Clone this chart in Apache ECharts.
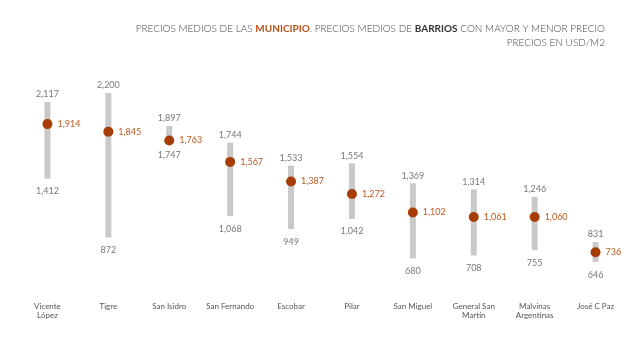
<!DOCTYPE html>
<html><head><meta charset="utf-8">
<script src="https://cdn.jsdelivr.net/npm/echarts@6/dist/echarts.min.js"></script>
<style>html,body{margin:0;padding:0;background:#fff}#c{width:640px;height:338px}</style>
</head><body><div id="c"></div>
<script>
const categories = ['Vicente\nLópez','Tigre','San Isidro','San Fernando','Escobar','Pilar','San Miguel','General San\nMartín','Malvinas\nArgentinas','José C Paz'];
const maxValues = [2117,2200,1897,1744,1533,1554,1369,1314,1246,831];
const minValues = [1412,872,1747,1068,949,1042,680,708,755,646];
const avgValues = [1914,1845,1763,1567,1387,1272,1102,1061,1060,736];

const fmt = v => v.toLocaleString('en-US');
const FONT = 'Lato';
const chart = echarts.init(document.getElementById('c'));
chart.setOption({
  backgroundColor: '#fff',
  animation: false,
  title: [{
    text: 'PRECIOS MEDIOS DE LAS {o|MUNICIPIO}. PRECIOS MEDIOS DE {b|BARRIOS} CON MAYOR Y MENOR PRECIO',
    right: 30, top: 19,
    textStyle: {fontFamily: FONT, fontWeight: 300, fontSize: 10, color: '#444',
      rich: {o: {fontFamily: FONT, fontWeight: 'bold', fontSize: 10, color: '#b8531c'},
             b: {fontFamily: FONT, fontWeight: 'bold', fontSize: 10, color: '#333'}}}
  }, {
    text: 'PRECIOS EN USD/M2',
    right: 30, top: 33,
    textStyle: {fontFamily: FONT, fontWeight: 300, fontSize: 10, color: '#444'}
  }],
  grid: {left: 17, right: 14, top: 93, bottom: 60},
  xAxis: {
    type: 'category', data: categories,
    axisLine: {show: false}, axisTick: {show: false},
    axisLabel: {margin: 24, fontFamily: FONT, fontSize: 8, lineHeight: 9, color: '#555', interval: 0}
  },
  yAxis: {type: 'value', min: 500, max: 2200, show: false, splitLine: {show: false}},
  series: [{
    type: 'custom',
    data: categories.map((c, i) => [i, minValues[i], maxValues[i]]),
    encode: {x: 0, y: [1, 2]},
    renderItem: (params, api) => {
      const lo = api.coord([api.value(0), api.value(1)]);
      const hi = api.coord([api.value(0), api.value(2)]);
      const w = 6;
      return {type: 'rect', shape: {x: lo[0] - w / 2, y: hi[1], width: w, height: lo[1] - hi[1]},
        style: {fill: '#c9c9c9'}};
    },
    z: 1
  }, {
    type: 'scatter', data: maxValues, symbolSize: 0,
    label: {show: true, position: 'top', distance: 3, formatter: p => fmt(p.value),
      fontFamily: FONT, fontSize: 9, color: '#555'}
  }, {
    type: 'scatter', data: minValues, symbolSize: 0,
    label: {show: true, position: 'bottom', distance: 8, formatter: p => fmt(p.value),
      fontFamily: FONT, fontSize: 9, color: '#555'}
  }, {
    type: 'scatter', data: avgValues, symbolSize: 10, z: 3,
    itemStyle: {color: '#a63c06', opacity: 1},
    label: {show: true, position: 'right', distance: 5, formatter: p => fmt(p.value),
      fontFamily: FONT, fontSize: 9, color: '#c0581f'}
  }]
});
</script></body></html>
